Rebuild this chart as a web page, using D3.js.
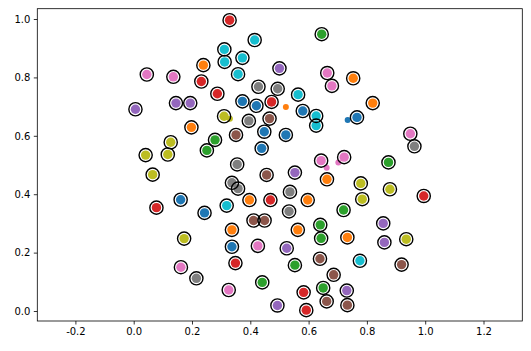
<!DOCTYPE html>
<html>
<head>
<meta charset="utf-8">
<script src="https://cdn.jsdelivr.net/npm/d3@7"></script>
<style>
  body { margin: 0; background: #fff; }
  svg text { font-family: "DejaVu Sans", sans-serif; font-size: 10px; fill: #000; }
</style>
</head>
<body>
<div id="canvas"></div>
<script>
// circled points (tab10 colour index per point)
const pointX = [0.045, 0.006, 0.041, 0.065, 0.078, 0.329, 0.415, 0.311, 0.373, 0.312,
    0.239, 0.358, 0.500, 0.136, 0.232, 0.287, 0.428, 0.494, 0.145, 0.194,
    0.373, 0.421, 0.473, 0.310, 0.395, 0.466, 0.351, 0.448, 0.198, 0.279,
    0.251, 0.439, 0.127, 0.117, 0.355, 0.645, 0.664, 0.680, 0.753, 0.564,
    0.580, 0.626, 0.626, 0.820, 0.766, 0.522, 0.643, 0.722, 0.874, 0.949,
    0.963, 0.456, 0.553, 0.663, 0.779, 0.879, 0.337, 0.358, 0.161, 0.243,
    0.319, 0.397, 0.469, 0.536, 0.597, 0.784, 0.995, 0.411, 0.449, 0.533,
    0.720, 0.337, 0.563, 0.640, 0.643, 0.733, 0.856, 0.860, 0.935, 0.173,
    0.337, 0.426, 0.525, 0.639, 0.776, 0.919, 0.349, 0.162, 0.553, 0.686,
    0.215, 0.441, 0.326, 0.650, 0.731, 0.583, 0.493, 0.662, 0.733, 0.592];
const pointY = [0.810, 0.691, 0.534, 0.467, 0.354, 0.996, 0.928, 0.896, 0.867, 0.853,
    0.842, 0.811, 0.831, 0.802, 0.786, 0.744, 0.768, 0.761, 0.712, 0.712,
    0.718, 0.703, 0.716, 0.667, 0.651, 0.659, 0.603, 0.614, 0.629, 0.586,
    0.550, 0.557, 0.578, 0.536, 0.502, 0.948, 0.815, 0.771, 0.797, 0.741,
    0.685, 0.668, 0.635, 0.712, 0.663, 0.603, 0.515, 0.527, 0.509, 0.607,
    0.564, 0.466, 0.474, 0.451, 0.437, 0.417, 0.439, 0.419, 0.381, 0.336,
    0.361, 0.380, 0.380, 0.408, 0.380, 0.383, 0.394, 0.310, 0.310, 0.341,
    0.346, 0.278, 0.278, 0.295, 0.249, 0.252, 0.300, 0.235, 0.246, 0.248,
    0.220, 0.223, 0.215, 0.179, 0.172, 0.159, 0.164, 0.150, 0.157, 0.124,
    0.112, 0.098, 0.072, 0.079, 0.070, 0.064, 0.019, 0.033, 0.020, 0.003];
const pointGroup = [6, 4, 8, 8, 3, 3, 9, 9, 9, 9,
    1, 9, 4, 6, 3, 3, 7, 7, 4, 4,
    0, 0, 3, 8, 7, 5, 5, 0, 1, 2,
    2, 0, 8, 8, 7, 2, 6, 6, 1, 9,
    0, 9, 9, 1, 0, 0, 6, 6, 2, 6,
    7, 5, 4, 1, 8, 8, 7, 7, 0, 0,
    9, 1, 3, 7, 1, 8, 3, 5, 5, 7,
    2, 1, 1, 2, 2, 1, 4, 4, 8, 8,
    0, 6, 4, 5, 9, 5, 3, 6, 2, 5,
    7, 2, 6, 2, 4, 3, 4, 5, 5, 3];

// small points without a ring
const dotX = [0.522, 0.734, 0.662, 0.702, 0.330];
const dotY = [0.699, 0.654, 0.491, 0.509, 0.658];
const dotGroup = [1, 0, 6, 6, 8];

const xTicks = [-0.2, 0.0, 0.2, 0.4, 0.6, 0.8, 1.0, 1.2];
const yTicks = [0.0, 0.2, 0.4, 0.6, 0.8, 1.0];

const W = 531, H = 351;
const margin = { Top: 8.7, Right: 8.7, Bottom: 30, Left: 37.3 };

const svg = d3.select('#canvas').append("svg")
    .attr("width", W)
    .attr("height", H);

const x = d3.scaleLinear()
    .domain([-0.3307, 1.3331])
    .range([margin.Left, W - margin.Right]);
const y = d3.scaleLinear()
    .domain([-0.0342, 1.0353])
    .range([H - margin.Bottom, margin.Top]);

const color = d3.scaleOrdinal().domain(d3.range(10)).range(d3.schemeCategory10);

const points = pointX.map((v, i) => ({ x: v, y: pointY[i], g: pointGroup[i] }));
const dots = dotX.map((v, i) => ({ x: v, y: dotY[i], g: dotGroup[i] }));

svg.append("g").selectAll("circle.dot")
    .data(dots)
    .enter().append("circle")
    .attr("cx", d => x(d.x))
    .attr("cy", d => y(d.y))
    .attr("r", 3)
    .attr("fill", d => color(d.g));

svg.append("g").selectAll("circle.fill")
    .data(points)
    .enter().append("circle")
    .attr("cx", d => x(d.x))
    .attr("cy", d => y(d.y))
    .attr("r", 4.7)
    .attr("fill", d => color(d.g));

svg.append("g").selectAll("circle.ring")
    .data(points)
    .enter().append("circle")
    .attr("cx", d => x(d.x))
    .attr("cy", d => y(d.y))
    .attr("r", 6.6)
    .attr("fill", "none")
    .attr("stroke", "#000")
    .attr("stroke-width", 1.4);

// matplotlib-style labels with a plain hyphen
const fmt = d => d3.format(".1f")(d).replace("\u2212", "-");

const xAxis = svg.append("g")
    .attr("transform", `translate(0, ${H - margin.Bottom})`)
    .call(d3.axisBottom(x).tickValues(xTicks).tickFormat(fmt).tickSizeInner(3.5).tickSizeOuter(0).tickPadding(3.5));
const yAxis = svg.append("g")
    .attr("transform", `translate(${margin.Left}, 0)`)
    .call(d3.axisLeft(y).tickValues(yTicks).tickFormat(fmt).tickSizeInner(3.5).tickSizeOuter(0).tickPadding(3.5));

[xAxis, yAxis].forEach(a => {
    a.select(".domain").remove();
    a.selectAll("line").attr("stroke", "#000").attr("stroke-width", 0.8);
    a.selectAll("text").attr("font-size", 10).attr("font-family", "DejaVu Sans, sans-serif");
});

svg.append("rect")
    .attr("x", margin.Left)
    .attr("y", margin.Top)
    .attr("width", W - margin.Left - margin.Right)
    .attr("height", H - margin.Top - margin.Bottom)
    .attr("fill", "none")
    .attr("stroke", "#000")
    .attr("stroke-width", 0.8);
</script>
</body>
</html>
